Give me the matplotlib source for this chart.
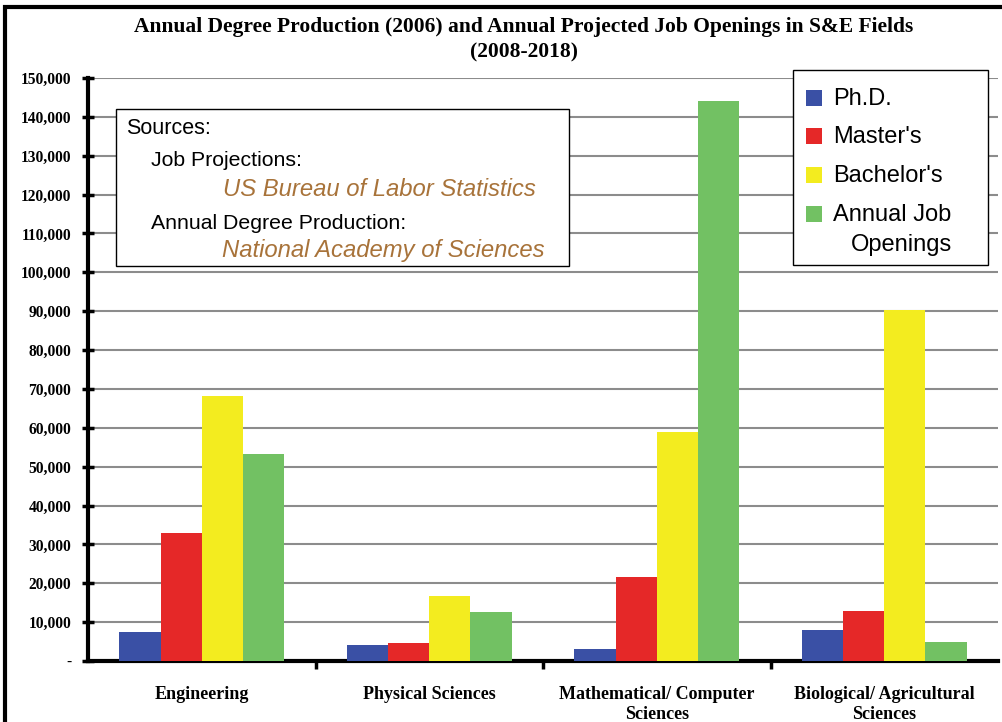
import matplotlib
matplotlib.use("Agg")
import matplotlib.pyplot as plt
import numpy as np
from matplotlib.patches import Rectangle
from matplotlib.ticker import FuncFormatter

categories = ["Engineering", "Physical Sciences", "Mathematical/ Computer\nSciences",
              "Biological/ Agricultural\nSciences"]
phd = [7400, 4100, 3000, 7900]
masters = [32900, 4600, 21600, 12900]
bachelors = [68200, 16700, 58900, 90300]
job_openings = [53200, 12600, 144100, 5000]

series = [
    ("Ph.D.", phd, "#3a50a5"),
    ("Master's", masters, "#e52828"),
    ("Bachelor's", bachelors, "#f3ec1f"),
    ("Annual Job\n   Openings", job_openings, "#72c163"),
]

serif = ["Liberation Serif", "DejaVu Serif"]
sans = ["Liberation Sans", "DejaVu Sans"]

fig = plt.figure(figsize=(10.02, 7.22), dpi=100)
ax = fig.add_axes([88 / 1002, 1 - 661 / 722, 910 / 1002, 583 / 722])

x = np.arange(len(categories))
w = 0.181
for i, (name, vals, col) in enumerate(series):
    ax.bar(x + (i - 1.5) * w, vals, w, color=col, label=name, zorder=3)

ax.set_xlim(-0.5, len(categories) - 0.5)
ax.set_ylim(0, 150000)
ax.set_yticks(np.arange(0, 150001, 10000))
ax.yaxis.set_major_formatter(FuncFormatter(lambda v, p: "-" if v == 0 else f"{int(v):,}"))
ax.grid(axis="y", color="#8c8c8c", linewidth=1.5, zorder=0)

ax.set_xticks(np.arange(0.5, len(categories) - 0.5, 1.0))
ax.set_xticklabels([])
ax.set_xticks(x, minor=True)
ax.set_xticklabels(categories, minor=True, fontfamily=serif, fontweight="bold", fontsize=13,
                   linespacing=1.2)
ax.tick_params(axis="x", which="major", direction="out", length=6, width=2.5)
ax.tick_params(axis="x", which="minor", length=0, pad=18)
ax.tick_params(axis="y", direction="inout", length=8, width=2.5, pad=8)
for lab in ax.get_yticklabels():
    lab.set_fontfamily(serif)
    lab.set_fontweight("bold")
    lab.set_fontsize(11.2)

for s in ["top", "right"]:
    ax.spines[s].set_visible(False)
ax.spines["left"].set_linewidth(3)
ax.spines["bottom"].set_linewidth(3)

fig.text(524 / 1002, 1 - 27 / 722, "Annual Degree Production (2006) and Annual Projected Job Openings in S&E Fields",
         ha="center", va="center", fontfamily=serif, fontweight="bold", fontsize=15.5)
fig.text(524 / 1002, 1 - 52 / 722, "(2008-2018)", ha="center", va="center",
         fontfamily=serif, fontweight="bold", fontsize=15.5)

# outer frame (left and top visible)
fig.add_artist(Rectangle((5 / 1002, -0.05), 1.2, 1 - 7 / 722 + 0.05, transform=fig.transFigure,
                         fill=False, edgecolor="black", linewidth=3))

# sources box
fig.add_artist(Rectangle((116 / 1002, 1 - 266 / 722), 453 / 1002, 157 / 722, transform=fig.transFigure,
                         facecolor="white", edgecolor="black", linewidth=1, zorder=5))
brown = "#a8733a"
fig.text(126 / 1002, 1 - 128 / 722, "Sources:", va="center", fontfamily=sans, fontsize=15.5, zorder=6)
fig.text(151 / 1002, 1 - 161 / 722, "Job Projections:", va="center", fontfamily=sans, fontsize=15.3, zorder=6)
fig.text(223 / 1002, 1 - 189 / 722, "US Bureau of Labor Statistics", va="center", fontfamily=sans,
         fontsize=17.2, style="italic", color=brown, zorder=6)
fig.text(151 / 1002, 1 - 224 / 722, "Annual Degree Production:", va="center", fontfamily=sans,
         fontsize=15.3, zorder=6)
fig.text(222 / 1002, 1 - 251 / 722, "National Academy of Sciences", va="center", fontfamily=sans,
         fontsize=17.2, style="italic", color=brown, zorder=6)

# legend box
fig.add_artist(Rectangle((793 / 1002, 1 - 265 / 722), 195 / 1002, 195 / 722, transform=fig.transFigure,
                         facecolor="white", edgecolor="black", linewidth=1, zorder=5))
leg_rows = [98, 136, 175, 214]
for (name, vals, col), yy in zip(series, leg_rows):
    fig.add_artist(Rectangle((806 / 1002, 1 - (yy + 8) / 722), 16 / 1002, 16 / 722,
                             transform=fig.transFigure, facecolor=col, edgecolor="none", zorder=6))
    first = name.split("\n")[0]
    fig.text(833 / 1002, 1 - (yy + 1) / 722, first, va="center", fontfamily=sans, fontsize=17, zorder=6)
fig.text(851 / 1002, 1 - 245 / 722, "Openings", va="center", fontfamily=sans, fontsize=17, zorder=6)

fig.savefig("out.png", dpi=100)
